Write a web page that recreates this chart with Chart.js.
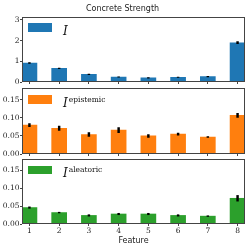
<!DOCTYPE html>
<html>
<head>
<meta charset="utf-8">
<script src="https://cdn.jsdelivr.net/npm/chart.js@4.4.1/dist/chart.umd.min.js"></script>
<style>
  body { margin: 0; background: #fff; width: 249px; height: 249px; overflow: hidden; position: relative; }
  canvas { position: absolute; left: 0; }
  .swatch { position: absolute; left: 28px; width: 24px; height: 8.5px; }
  .lbl { position: absolute; left: 63px; font-family: "DejaVu Serif", serif; color: #111; white-space: nowrap; line-height: 1; }
  .lbl i { font-size: 12px; }
  .lbl sup { font-size: 7.5px; font-style: normal; vertical-align: 0; position: relative; top: -5px; margin-left: 1px; }
</style>
</head>
<body>
<canvas id="totalChart" width="249" height="88" style="top:0px"></canvas>
<canvas id="epiChart" width="249" height="80" style="top:80px"></canvas>
<canvas id="aleChart" width="249" height="98" style="top:151px"></canvas>

<div class="swatch" style="top:23.3px;background:#1f77b4"></div>
<div class="lbl" style="top:22px"><i>I</i></div>
<div class="swatch" style="top:95px;background:#ff7f0e"></div>
<div class="lbl" style="top:93.5px"><i>I</i><sup>epistemic</sup></div>
<div class="swatch" style="top:165.7px;background:#2ca02c"></div>
<div class="lbl" style="top:164.2px"><i>I</i><sup>aleatoric</sup></div>

<script>
const features = [1, 2, 3, 4, 5, 6, 7, 8];

// total importance
const totalVals = [0.92, 0.66, 0.37, 0.24, 0.20, 0.23, 0.26, 1.90];
const totalErr = [0.02, 0.015, 0.01, 0.01, 0.01, 0.01, 0.01, 0.05];

// epistemic part
const epiVals = [0.080, 0.071, 0.054, 0.066, 0.050, 0.055, 0.047, 0.107];
const epiErr = [0.004, 0.006, 0.005, 0.007, 0.004, 0.003, 0.001, 0.006];

// aleatoric part
const aleVals = [0.046, 0.032, 0.024, 0.028, 0.028, 0.024, 0.022, 0.072];
const aleErr = [0.002, 0.001, 0.002, 0.002, 0.002, 0.002, 0.001, 0.008];

const totalTicks = [0, 1, 2, 3];
const smallTicks = [0, 0.05, 0.10, 0.15];

const frameColor = '#444';
const textColor = '#222';

// box around the plot area (matplotlib style spines)
const framePlugin = {
    id: 'frame',
    afterDraw(chart) {
        const a = chart.chartArea;
        const ctx = chart.ctx;
        ctx.save();
        ctx.strokeStyle = frameColor;
        ctx.lineWidth = 1;
        ctx.strokeRect(Math.round(a.left) + 0.5, Math.round(a.top) + 0.5,
            Math.round(a.right) - Math.round(a.left) - 1, Math.round(a.bottom) - Math.round(a.top) - 1);
        ctx.restore();
    }
};

function drawPanel(id, vals, errs, color, yMax, yTicks, decimals, extra) {
    const ctx = document.getElementById(id).getContext('2d');
    const tickGrid = {
        display: true,
        drawOnChartArea: false,
        drawTicks: true,
        tickLength: 2,
        color: frameColor,
        lineWidth: 1
    };

    return new Chart(ctx, {
        type: 'bar',
        data: {
            datasets: [
                {
                    data: features.map((f, i) => ({ x: f, y: [vals[i] - errs[i], vals[i] + errs[i]] })),
                    backgroundColor: '#000',
                    barThickness: 1.8,
                    grouped: false,
                    order: 0
                },
                {
                    data: features.map((f, i) => ({ x: f, y: vals[i] })),
                    backgroundColor: color,
                    borderWidth: 0,
                    barThickness: 15,
                    grouped: false,
                    order: 1
                }
            ]
        },
        options: {
            responsive: false,
            animation: false,
            events: [],
            layout: { padding: extra.padding },
            plugins: {
                legend: { display: false },
                tooltip: { enabled: false },
                title: extra.title || { display: false }
            },
            scales: {
                x: {
                    type: 'linear',
                    offset: false,
                    min: 0.75,
                    max: 8.25,
                    afterBuildTicks: axis => { axis.ticks = features.map(v => ({ value: v })); },
                    afterFit: axis => { axis.height = extra.xHeight; },
                    grid: Object.assign({}, tickGrid, { offset: false }),
                    border: { display: false },
                    ticks: {
                        display: extra.showX,
                        padding: 0.5,
                        color: textColor,
                        font: { family: 'DejaVu Serif', size: 7.5 },
                        callback: v => String(v)
                    },
                    title: extra.xTitle || { display: false }
                },
                y: {
                    min: 0,
                    max: yMax,
                    afterBuildTicks: axis => { axis.ticks = yTicks.map(v => ({ value: v })); },
                    afterFit: axis => { axis.width = 22; },
                    grid: tickGrid,
                    border: { display: false },
                    ticks: {
                        padding: 0.5,
                        color: textColor,
                        font: { family: 'DejaVu Serif', size: 7.5 },
                        callback: v => v.toFixed(decimals)
                    }
                }
            }
        },
        plugins: [framePlugin]
    });
}

drawPanel('totalChart', totalVals, totalErr, '#1f77b4', 3.13, totalTicks, 0, {
    padding: { left: 0, right: 4, top: 0, bottom: 6 },
    xHeight: 0,
    showX: false,
    title: {
        display: true,
        text: 'Concrete Strength',
        color: textColor,
        font: { family: 'DejaVu Sans', size: 8, weight: 'normal', lineHeight: 1 },
        padding: { top: 5, bottom: 4.3 }
    }
});

drawPanel('epiChart', epiVals, epiErr, '#ff7f0e', 0.182, smallTicks, 2, {
    padding: { left: 0, right: 4, top: 8.3, bottom: 6 },
    xHeight: 0,
    showX: false
});

drawPanel('aleChart', aleVals, aleErr, '#2ca02c', 0.182, smallTicks, 2, {
    padding: { left: 0, right: 4, top: 8, bottom: 0 },
    xHeight: 25,
    showX: true,
    xTitle: {
        display: true,
        text: 'Feature',
        color: textColor,
        font: { family: 'DejaVu Sans', size: 8, lineHeight: 1 },
        padding: { top: 0, bottom: 4 }
    }
});
</script>
</body>
</html>
